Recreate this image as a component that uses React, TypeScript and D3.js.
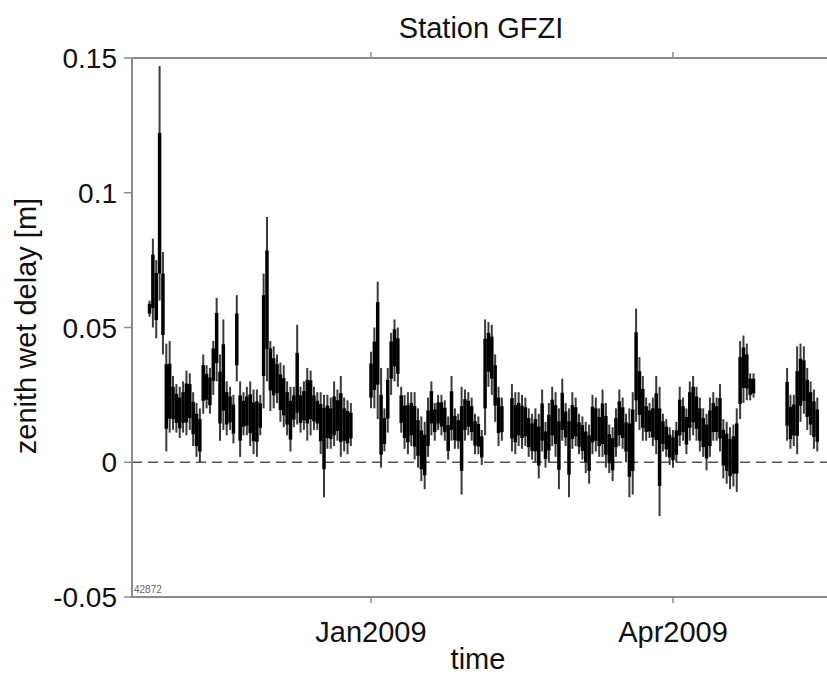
import React from "react";
import * as d3 from "d3";

// ---- data (zenith wet delay [m]), one sample per day starting at FIRST_DAY days from 1 Jan 2009 ----
const FIRST_DAY = -67;
const hi: (number | null)[] = [
  null, 0.060, 0.083, 0.075, 0.147, 0.078, 0.044, 0.045, 0.032, 0.029,
  0.028, 0.030, 0.034, 0.033, 0.026, 0.022, 0.020, 0.040, 0.036, 0.035,
  0.045, 0.061, 0.040, 0.053, 0.030, 0.028, 0.025, 0.062, 0.030, 0.026,
  0.028, 0.030, 0.027, 0.027, 0.025, 0.070, 0.091, 0.045, 0.043, 0.040,
  0.037, 0.036, 0.030, 0.028, 0.028, 0.051, 0.028, 0.030, 0.035, 0.034,
  0.028, 0.026, 0.026, 0.025, 0.025, 0.024, 0.030, 0.027, 0.032, 0.024,
  0.023, 0.022, null, null, null, null, null, 0.041, 0.050, 0.067,
  0.035, 0.020, 0.035, 0.048, 0.053, 0.050, 0.028, 0.025, 0.026, 0.026,
  0.026, 0.020, 0.017, 0.015, 0.024, 0.030, 0.022, 0.025, 0.025, 0.023,
  0.017, 0.032, 0.020, 0.018, 0.028, 0.027, 0.026, 0.024, 0.018, 0.017,
  0.012, 0.053, 0.052, 0.051, 0.040, 0.028, 0.024, null, null, 0.029,
  0.026, 0.026, 0.025, 0.024, 0.020, 0.018, 0.020, 0.018, 0.027, 0.015,
  0.022, 0.028, 0.026, 0.020, 0.031, 0.022, 0.020, 0.026, 0.024, 0.018,
  0.017, 0.015, 0.014, 0.025, 0.024, 0.020, 0.027, 0.022, 0.014, 0.013,
  0.020, 0.027, 0.024, 0.018, 0.020, 0.026, 0.057, 0.039, 0.032, 0.024,
  0.022, 0.024, 0.032, 0.028, 0.018, 0.016, 0.013, 0.012, 0.015, 0.028,
  0.024, 0.020, 0.030, 0.032, 0.028, 0.024, 0.020, 0.018, 0.024, 0.026,
  0.024, 0.029, 0.016, 0.015, 0.013, 0.014, 0.020, 0.045, 0.047, 0.044,
  0.033, 0.033, null, null, null, null, null, null, null, null,
  null, 0.035, 0.025, 0.025, 0.043, 0.044, 0.043, 0.035, 0.030, 0.027, 0.024,
];
const lo: (number | null)[] = [
  null, 0.054, 0.050, 0.046, 0.060, 0.040, 0.004, 0.011, 0.012, 0.011,
  0.009, 0.011, 0.010, 0.012, 0.006, 0.002, 0.000, 0.018, 0.020, 0.018,
  0.025, 0.030, 0.008, 0.012, 0.010, 0.012, 0.007, 0.030, 0.002, 0.010,
  0.010, 0.006, 0.003, 0.002, 0.010, 0.020, 0.030, 0.019, 0.020, 0.022,
  0.015, 0.013, 0.010, 0.004, 0.013, 0.014, 0.011, 0.012, 0.008, 0.010,
  0.012, 0.012, 0.003, -0.013, 0.005, 0.005, 0.006, 0.008, 0.002, 0.004,
  0.003, 0.006, null, null, null, null, null, 0.020, 0.020, 0.016,
  -0.002, 0.004, 0.011, 0.025, 0.030, 0.028, 0.011, 0.005, 0.003, 0.006,
  0.001, -0.002, -0.007, -0.010, 0.002, 0.010, 0.008, 0.012, 0.010, 0.008,
  0.001, 0.008, 0.005, 0.005, -0.012, 0.008, 0.010, 0.008, 0.003, 0.003,
  -0.001, 0.010, 0.028, 0.025, 0.015, 0.006, 0.008, null, null, 0.004,
  0.003, 0.006, 0.005, 0.006, 0.002, 0.001, 0.000, -0.006, 0.004, -0.002,
  0.000, 0.006, 0.002, -0.010, 0.008, 0.006, -0.013, 0.005, 0.006, 0.003,
  0.001, -0.004, -0.008, 0.003, 0.004, 0.002, 0.002, -0.002, -0.004, -0.007,
  0.002, 0.006, 0.005, 0.000, -0.013, -0.012, 0.015, 0.012, 0.008, 0.008,
  0.009, 0.006, 0.003, -0.020, 0.004, 0.002, -0.001, -0.002, 0.000, 0.006,
  0.008, 0.003, 0.008, 0.010, 0.008, 0.004, 0.002, -0.003, 0.002, 0.008,
  0.008, 0.004, -0.006, -0.008, -0.010, -0.009, -0.011, 0.016, 0.022, 0.023,
  0.023, 0.024, null, null, null, null, null, null, null, null,
  null, 0.008, 0.005, 0.006, 0.003, 0.015, 0.018, 0.012, 0.010, 0.005, 0.004,
];
const mid: (number | null)[] = [
  null, 0.057, 0.068, 0.063, 0.085, 0.058, 0.025, 0.024, 0.022, 0.020,
  0.018, 0.020, 0.022, 0.023, 0.017, 0.012, 0.010, 0.030, 0.028, 0.026,
  0.038, 0.047, 0.024, 0.030, 0.020, 0.019, 0.016, 0.045, 0.017, 0.018,
  0.019, 0.018, 0.015, 0.016, 0.017, 0.050, 0.060, 0.038, 0.032, 0.031,
  0.026, 0.024, 0.020, 0.015, 0.020, 0.025, 0.020, 0.021, 0.024, 0.025,
  0.020, 0.018, 0.015, 0.013, 0.015, 0.014, 0.016, 0.017, 0.016, 0.014,
  0.013, 0.013, null, null, null, null, null, 0.030, 0.037, 0.048,
  0.010, 0.011, 0.024, 0.040, 0.044, 0.040, 0.020, 0.015, 0.014, 0.016,
  0.013, 0.009, 0.004, 0.003, 0.012, 0.021, 0.016, 0.018, 0.018, 0.016,
  0.009, 0.018, 0.013, 0.012, 0.010, 0.018, 0.018, 0.016, 0.011, 0.010,
  0.006, 0.035, 0.042, 0.040, 0.030, 0.018, 0.016, null, null, 0.016,
  0.014, 0.016, 0.015, 0.015, 0.011, 0.009, 0.010, 0.006, 0.014, 0.006,
  0.011, 0.016, 0.014, 0.008, 0.018, 0.014, 0.008, 0.014, 0.015, 0.010,
  0.009, 0.006, 0.004, 0.014, 0.014, 0.012, 0.014, 0.010, 0.005, 0.003,
  0.011, 0.016, 0.015, 0.010, 0.006, 0.010, 0.035, 0.026, 0.020, 0.016,
  0.015, 0.014, 0.016, 0.008, 0.011, 0.009, 0.006, 0.005, 0.007, 0.016,
  0.016, 0.012, 0.020, 0.022, 0.019, 0.014, 0.011, 0.008, 0.012, 0.016,
  0.016, 0.016, 0.006, 0.004, 0.002, 0.003, 0.006, 0.030, 0.036, 0.034,
  0.028, 0.028, null, null, null, null, null, null, null, null,
  null, 0.022, 0.014, 0.016, 0.020, 0.030, 0.030, 0.024, 0.020, 0.016, 0.013,
];

const yTicks = [0.15, 0.1, 0.05, 0, -0.05];
const yTickLabels = ["0.15", "0.1", "0.05", "0", "-0.05"];
const xTickDates = [new Date(Date.UTC(2009, 0, 1)), new Date(Date.UTC(2009, 3, 1))];
const xTickLabels = ["Jan2009", "Apr2009"];
const TITLE = "Station GFZI";
const X_LABEL = "time";
const Y_LABEL = "zenith wet delay [m]";
const CORNER_NOTE = "42872";

const W = 827;
const H = 674;
const left = 132;
const right = 845;
const top = 58;
const bottom = 597;
const FONT = "'Liberation Sans', Arial, Helvetica, sans-serif";
const AXIS = "#8a8a8a";

export default function App() {
  const x = d3.scaleUtc().domain(xTickDates).range([371, 673]);
  const y = d3.scaleLinear().domain([-0.05, 0.15]).range([bottom, top]);
  const DAY = 86400000;
  const t0 = xTickDates[0].getTime();

  const samples = hi
    .map((h, i) => ({ h, l: lo[i], m: mid[i], t: new Date(t0 + (FIRST_DAY + i) * DAY) }))
    .filter((s) => s.h !== null && s.l !== null && s.m !== null) as {
    h: number; l: number; m: number; t: Date;
  }[];

  return (
    <svg
      width={W}
      height={H}
      style={{ position: "absolute", left: 0, top: 0, background: "#fff" }}
      fontFamily={FONT}
    >
      <defs>
        <clipPath id="plotclip">
          <rect x={left} y={top} width={right - left} height={bottom - top} />
        </clipPath>
      </defs>

      {/* title */}
      <text x={481} y={38} textAnchor="middle" fontSize={29} fill="#111">
        {TITLE}
      </text>

      {/* zero dashed line */}
      <line
        x1={left}
        x2={right}
        y1={y(0)}
        y2={y(0)}
        stroke="#555"
        strokeWidth={1.4}
        strokeDasharray="10,6"
      />

      {/* data */}
      <g clipPath="url(#plotclip)">
        {samples.map((s, i) => (
          <line
            key={"w" + i}
            x1={x(s.t)}
            x2={x(s.t)}
            y1={y(s.h)}
            y2={y(s.l)}
            stroke="#3a3a3a"
            strokeWidth={2}
          />
        ))}
        {samples.map((s, i) => (
          <line
            key={"c" + i}
            x1={x(s.t)}
            x2={x(s.t)}
            y1={y(s.m + (s.h - s.m) * 0.6)}
            y2={y(s.m - (s.m - s.l) * 0.6)}
            stroke="#000"
            strokeWidth={3.5}
          />
        ))}
      </g>

      {/* axes box */}
      <line x1={left} x2={left} y1={top} y2={bottom} stroke={AXIS} strokeWidth={2} />
      <line x1={left} x2={W} y1={top} y2={top} stroke={AXIS} strokeWidth={2} />
      <line x1={left} x2={W} y1={bottom} y2={bottom} stroke={AXIS} strokeWidth={2} />

      {/* y ticks */}
      {yTicks.map((v, i) => (
        <g key={"yt" + i}>
          <line x1={left - 8} x2={left} y1={y(v)} y2={y(v)} stroke={AXIS} strokeWidth={1.5} />
          <text
            x={left - 15}
            y={y(v)}
            dy="0.36em"
            textAnchor="end"
            fontSize={28}
            fill="#111"
          >
            {yTickLabels[i]}
          </text>
        </g>
      ))}

      {/* x ticks */}
      {xTickDates.map((d, i) => (
        <g key={"xt" + i}>
          <line x1={x(d)} x2={x(d)} y1={bottom} y2={bottom + 6} stroke={AXIS} strokeWidth={1.5} />
          <line x1={x(d)} x2={x(d)} y1={top} y2={top - 6} stroke={AXIS} strokeWidth={1.5} />
          <text x={x(d)} y={642} textAnchor="middle" fontSize={29} fill="#111">
            {xTickLabels[i]}
          </text>
        </g>
      ))}

      {/* axis labels */}
      <text x={478} y={669} textAnchor="middle" fontSize={29} fill="#111">
        {X_LABEL}
      </text>
      <text
        transform={`translate(36, 326) rotate(-90)`}
        textAnchor="middle"
        fontSize={29}
        fill="#111"
      >
        {Y_LABEL}
      </text>

      <text x={left + 2} y={bottom - 4} fontSize={10} fill="#666">
        {CORNER_NOTE}
      </text>
    </svg>
  );
}
